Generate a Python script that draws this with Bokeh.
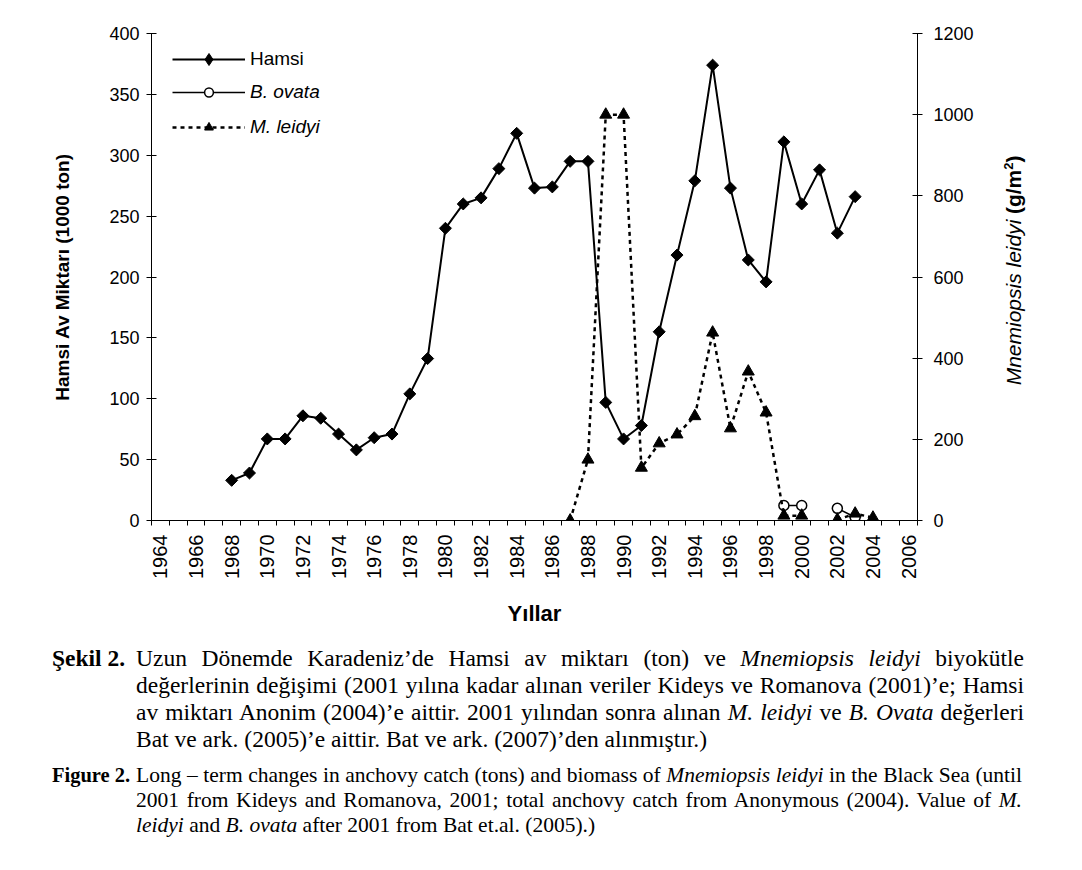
import numpy as np
from bokeh.plotting import figure
from bokeh.models import (Range1d, LinearAxis, FixedTicker, SingleIntervalTicker,
                          Legend, LegendItem, Label, Div, ColumnDataSource)
from bokeh.layouts import column, row
from bokeh.embed import file_html
from bokeh.resources import INLINE

nan = float("nan")

# ---- data ----
hamsi_years = list(range(1968, 2004))
hamsi = [33, 39, 67, 67, 86, 84, 71, 58, 68, 71, 104, 133, 240, 260, 265, 289, 318,
         273, 274, 295, 295, 97, 67, 78, 155, 218, 279, 374, 273, 214, 196, 311, 260,
         288, 236, 266]

ovata_years = [1999, 2000, 2001, 2002, 2003]
ovata = [37, 37, nan, 30, 8]

leidyi_years = list(range(1987, 2005))
leidyi = [0, 150, 1000, 1000, 130, 190, 212, 257, 463, 227, 367, 266, 12, 12, nan, 2, 17, 7]

x_label_years = list(range(1964, 2007, 2))
category_edges = [y - 0.5 for y in range(1964, 2008)]

FONT = "Liberation Sans"

p = figure(width=990, height=645,
           x_range=Range1d(1963.5, 2006.5), y_range=Range1d(0, 400),
           output_backend="svg", toolbar_location=None,
           min_border_left=151, min_border_right=73,
           min_border_top=33, min_border_bottom=125)
p.extra_y_ranges = {"right": Range1d(0, 1200)}
p.xgrid.visible = False
p.ygrid.visible = False
p.outline_line_color = None
p.background_fill_color = "white"

# x axis
xa = p.xaxis[0]
xa.ticker = FixedTicker(ticks=x_label_years, minor_ticks=category_edges)
xa.major_tick_in = 0
xa.major_tick_out = 0
xa.minor_tick_in = 0
xa.minor_tick_out = 5
xa.minor_tick_line_color = "black"
xa.axis_line_color = "black"
xa.major_label_orientation = np.pi / 2
xa.major_label_standoff = 9
xa.major_label_text_font = FONT
xa.major_label_text_font_size = "20px"
xa.major_label_text_color = "black"
xa.axis_label = "Yıllar"
xa.axis_label_text_font = FONT
xa.axis_label_text_font_style = "bold"
xa.axis_label_text_font_size = "22px"
xa.axis_label_text_color = "black"
xa.axis_label_standoff = 19

# left axis
ya = p.yaxis[0]
ya.ticker = SingleIntervalTicker(interval=50, num_minor_ticks=0)
ya.minor_tick_line_color = None
ya.major_tick_in = 5
ya.major_tick_out = 5
ya.major_label_standoff = 7
ya.major_label_text_font = FONT
ya.major_label_text_font_size = "18px"
ya.major_label_text_color = "black"
ya.axis_line_color = "black"
ya.axis_label = "Hamsi Av Miktarı (1000 ton)"
ya.axis_label_text_font = FONT
ya.axis_label_text_font_style = "bold"
ya.axis_label_text_font_size = "19px"
ya.axis_label_text_color = "black"
ya.axis_label_standoff = 33

# right axis
ra = LinearAxis(y_range_name="right", ticker=SingleIntervalTicker(interval=200, num_minor_ticks=0))
ra.minor_tick_line_color = None
ra.major_tick_in = 5
ra.major_tick_out = 5
ra.major_label_standoff = 11
ra.major_label_text_font = FONT
ra.major_label_text_font_size = "18px"
ra.major_label_text_color = "black"
ra.axis_line_color = "black"
p.add_layout(ra, "right")

# series
h_src = ColumnDataSource(dict(x=hamsi_years, y=hamsi))
h_line = p.line("x", "y", source=h_src, line_color="black", line_width=2)
h_key = p.scatter("x", "y", source=h_src, marker="diamond", size=8,
                  fill_color="black", line_color="black")
h_pts = p.scatter("x", "y", source=h_src, marker="square", angle=np.pi / 4, size=8.5,
                  fill_color="black", line_color="black")

o_src = ColumnDataSource(dict(x=ovata_years, y=ovata))
o_line = p.line("x", "y", source=o_src, y_range_name="right", line_color="black", line_width=1.5)
o_pts = p.scatter("x", "y", source=o_src, y_range_name="right", marker="circle", size=10,
                  fill_color="white", line_color="black", line_width=1.5)

l_src = ColumnDataSource(dict(x=leidyi_years, y=leidyi))
l_line = p.line("x", "y", source=l_src, y_range_name="right", line_color="black",
                line_width=2.5, line_dash="4 4")
l_pts = p.scatter("x", "y", source=l_src, y_range_name="right", marker="triangle", size=12,
                  fill_color="black", line_color="black")

common = dict(border_line_color=None, background_fill_alpha=0, padding=0, margin=0,
              glyph_width=73, label_standoff=5,
              label_text_font=FONT, label_text_font_size="19px", label_text_color="black")
leg1 = Legend(items=[LegendItem(label="Hamsi", renderers=[h_line, h_key])],
              location=(21, 446), glyph_height=30, label_height=30, **common)
leg2 = Legend(items=[LegendItem(label="B. ovata", renderers=[o_line, o_pts]),
                     LegendItem(label="M. leidyi", renderers=[l_line, l_pts])],
              location=(21, 382), spacing=13, glyph_height=22, label_height=22,
              label_text_font_style="italic", **common)
p.add_layout(leg1)
p.add_layout(leg2)

# strip to the right that carries the right-axis title (mixed styles)
p2 = figure(width=70, height=645, x_range=Range1d(0, 70), y_range=Range1d(0, 1200),
            output_backend="svg", toolbar_location=None,
            x_axis_location=None, y_axis_location=None,
            min_border_left=0, min_border_right=0, min_border_top=33, min_border_bottom=125)
p2.outline_line_color = None
p2.background_fill_color = "white"
p2.grid.visible = False
lx = 23
for txt, xx, yy, style, size in [("Mnemiopsis leidyi ", lx, 333, "italic", "21px"),
                                 ("(g/m", lx, 755, "bold", "21px"),
                                 ("2", lx - 5, 864, "bold", "13px"),
                                 (")", lx, 882, "bold", "21px")]:
    p2.add_layout(Label(x=xx, y=yy, text=txt, angle=np.pi / 2, text_font=FONT,
                        text_font_style=style, text_font_size=size, text_align="left",
                        text_baseline="middle", text_color="black"))

caption = """
<div style="font-family:'Liberation Serif'; color:#000; width:1010px; margin-left:52px;">
 <div style="display:flex; font-size:23.5px; line-height:27px;">
  <div style="width:84px; flex:none; font-weight:bold;">Şekil 2.</div>
  <div style="width:888px; flex:none;">
   <div style="text-align:justify; text-align-last:justify;">Uzun Dönemde Karadeniz’de Hamsi av miktarı (ton) ve <i>Mnemiopsis leidyi</i> biyokütle</div>
   <div style="text-align:justify; text-align-last:justify;">değerlerinin değişimi (2001 yılına kadar alınan veriler Kideys ve Romanova (2001)’e; Hamsi</div>
   <div style="text-align:justify; text-align-last:justify;">av miktarı Anonim (2004)’e aittir. 2001 yılından sonra alınan <i>M. leidyi</i> ve <i>B. Ovata</i> değerleri</div>
   <div>Bat ve ark. (2005)’e aittir. Bat ve ark. (2007)’den alınmıştır.)</div>
  </div>
 </div>
 <div style="display:flex; font-size:21.5px; line-height:25px; margin-top:10px;">
  <div style="width:84px; flex:none; font-weight:bold; font-size:20.5px;">Figure 2.</div>
  <div style="width:886px; flex:none;">
   <div style="text-align:justify; text-align-last:justify;">Long – term changes in anchovy catch (tons) and biomass of <i>Mnemiopsis leidyi</i> in the Black Sea (until</div>
   <div style="text-align:justify; text-align-last:justify;">2001 from Kideys and Romanova, 2001; total anchovy catch from Anonymous (2004). Value of <i>M.</i></div>
   <div><i>leidyi</i> and <i>B. ovata</i> after 2001 from Bat et.al. (2005).)</div>
  </div>
 </div>
</div>
"""
div = Div(text=caption, width=1060, height=200, margin=0)

layout = column(row(p, p2, spacing=0), div, spacing=0)
open("out.html", "w").write(file_html(layout, INLINE))
